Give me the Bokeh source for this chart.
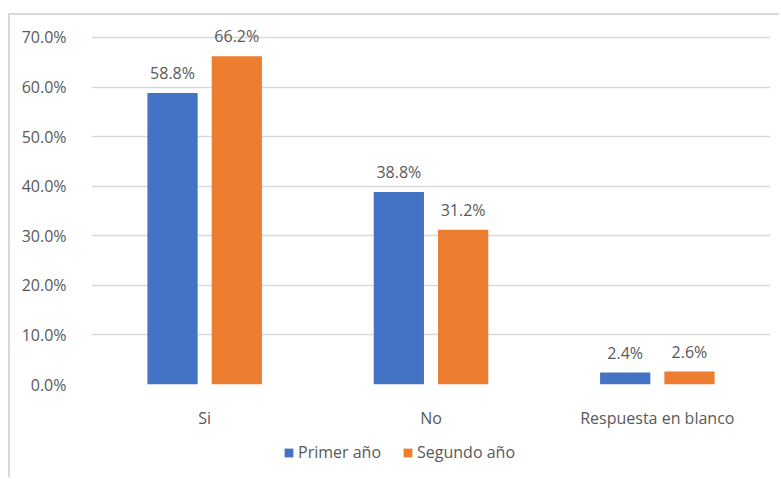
from bokeh.plotting import figure
from bokeh.layouts import column
from bokeh.models import ColumnDataSource, FactorRange, Range1d, FixedTicker, NumeralTickFormatter, Legend, LegendItem
from bokeh.transform import dodge
from bokeh.core.properties import value
from bokeh.embed import file_html
from bokeh.resources import INLINE

categories = ["Si", "No", "Respuesta en blanco"]
primer = [0.588, 0.388, 0.024]
segundo = [0.662, 0.312, 0.026]
series_names = ["Primer año", "Segundo año"]
y_ticks = [0.0, 0.1, 0.2, 0.3, 0.4, 0.5, 0.6, 0.7]

FONT = "Open Sans"
FS = "16px"
TXT = "#595959"
BLUE = "#4472C4"
ORANGE = "#ED7D31"
BORDER = "2px solid #d9d9d9"

src = ColumnDataSource(dict(
    cat=categories,
    primer=primer,
    segundo=segundo,
    primer_lbl=[f"{v*100:.1f}%" for v in primer],
    segundo_lbl=[f"{v*100:.1f}%" for v in segundo],
))

# ---- main chart ----
p = figure(
    x_range=FactorRange(*categories, range_padding=0.0),
    y_range=Range1d(0, 0.72),
    width=771, height=425,
    output_backend="svg", toolbar_location=None,
    min_border_left=81, min_border_right=11, min_border_top=12, min_border_bottom=56,
)
p.margin = (13, 0, 0, 8)
p.styles = {"border-top": BORDER, "border-left": BORDER}
p.outline_line_color = None
p.background_fill_color = "white"
p.border_fill_color = "white"

p.vbar(x=dodge("cat", -0.142, range=p.x_range), top="primer", width=0.222, source=src,
       fill_color=BLUE, line_color=None)
p.vbar(x=dodge("cat", 0.142, range=p.x_range), top="segundo", width=0.222, source=src,
       fill_color=ORANGE, line_color=None)

p.text(x=dodge("cat", -0.142, range=p.x_range), y="primer", text="primer_lbl", source=src,
       text_align="center", text_baseline="bottom", y_offset=-9,
       text_font=value(FONT), text_font_size=FS, text_color=TXT)
p.text(x=dodge("cat", 0.142, range=p.x_range), y="segundo", text="segundo_lbl", source=src,
       text_align="center", text_baseline="bottom", y_offset=-9,
       text_font=value(FONT), text_font_size=FS, text_color=TXT)

p.yaxis.ticker = FixedTicker(ticks=y_ticks)
p.yaxis.formatter = NumeralTickFormatter(format="0.0%")
p.yaxis.axis_line_color = None
p.yaxis.major_tick_line_color = None
p.yaxis.minor_tick_line_color = None
p.yaxis.major_label_standoff = 19
p.yaxis.major_label_text_font = FONT
p.yaxis.major_label_text_font_size = FS
p.yaxis.major_label_text_color = TXT

p.xaxis.axis_line_color = None
p.xaxis.major_tick_line_color = None
p.xaxis.minor_tick_line_color = None
p.xaxis.major_label_standoff = 16
p.xaxis.major_label_text_font = FONT
p.xaxis.major_label_text_font_size = FS
p.xaxis.major_label_text_color = TXT

p.xgrid.grid_line_color = None
p.ygrid.ticker = FixedTicker(ticks=y_ticks)
p.ygrid.grid_line_color = "#D9D9D9"
p.ygrid.grid_line_width = 1.5

# ---- legend strip ----
lg = figure(
    x_range=Range1d(0, 1), y_range=Range1d(0, 1),
    width=771, height=39,
    output_backend="svg", toolbar_location=None,
    min_border=0,
)
lg.margin = (0, 0, 0, 8)
lg.styles = {"border-left": BORDER}
lg.outline_line_color = None
lg.axis.visible = False
lg.grid.visible = False
lg.background_fill_color = "white"
lg.border_fill_color = "white"

nan = float("nan")
k1 = lg.vbar(x=[nan], top=[nan], width=0.1, fill_color=BLUE, line_color=None)
k2 = lg.vbar(x=[nan], top=[nan], width=0.1, fill_color=ORANGE, line_color=None)

legend = Legend(
    items=[LegendItem(label=series_names[0], renderers=[k1]),
           LegendItem(label=series_names[1], renderers=[k2])],
    orientation="horizontal", location=(192, 14),
    glyph_width=11, glyph_height=11, spacing=21, label_standoff=4,
    label_text_font=FONT, label_text_font_size=FS, label_text_color=TXT,
    border_line_color=None, background_fill_alpha=0, padding=0, margin=0,
)
lg.add_layout(legend, "center")

layout = column(p, lg, spacing=0)
open("out.html", "w").write(file_html(layout, INLINE))
